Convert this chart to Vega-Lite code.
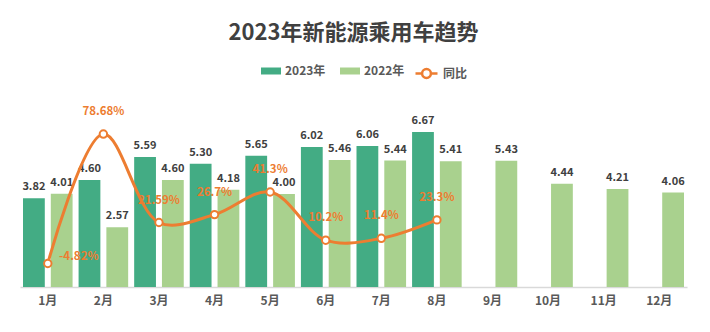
{
  "$schema": "https://vega.github.io/schema/vega-lite/v6.json",
  "width": 667,
  "height": 186,
  "autosize": {"type": "none"},
  "padding": {"left": 20, "top": 101, "right": 23, "bottom": 45},
  "background": "white",
  "title": {"text": "2023年新能源乘用车趋势", "fontSize": 22, "font": "Noto Sans CJK SC", "fontWeight": "bold", "color": "#404040", "anchor": "middle", "offset": 16, "frame": "group"},
  "config": {"view": {"stroke": null}, "font": "Noto Sans CJK SC",
    "locale": {"number": {"decimal": ".", "thousands": ",", "grouping": [3], "currency": ["", ""], "minus": "-"}}},
  "data": {
    "values": [
      {"month": "1月", "2023年": 3.82, "2022年": 4.01, "同比": -0.0482},
      {"month": "2月", "2023年": 4.60, "2022年": 2.57, "同比": 0.7868},
      {"month": "3月", "2023年": 5.59, "2022年": 4.60, "同比": 0.2159},
      {"month": "4月", "2023年": 5.30, "2022年": 4.18, "同比": 0.267},
      {"month": "5月", "2023年": 5.65, "2022年": 4.00, "同比": 0.413},
      {"month": "6月", "2023年": 6.02, "2022年": 5.46, "同比": 0.102},
      {"month": "7月", "2023年": 6.06, "2022年": 5.44, "同比": 0.114},
      {"month": "8月", "2023年": 6.67, "2022年": 5.41, "同比": 0.233},
      {"month": "9月", "2022年": 5.43},
      {"month": "10月", "2022年": 4.44},
      {"month": "11月", "2022年": 4.21},
      {"month": "12月", "2022年": 4.06}
    ]
  },
  "layer": [
    {
      "transform": [
        {"fold": ["2023年", "2022年"], "as": ["series", "value"]},
        {"filter": "isValid(datum.value)"}
      ],
      "encoding": {
        "x": {"field": "month", "type": "ordinal", "sort": ["1月","2月","3月","4月","5月","6月","7月","8月","9月","10月","11月","12月"], "scale": {"paddingInner": 0, "paddingOuter": 0}, "title": null,
          "axis": {"labelAngle": 0, "ticks": false, "domainColor": "#D9D9D9", "domainWidth": 1.5, "labelFontSize": 12, "labelFontWeight": "bold", "labelColor": "#595959", "labelPadding": 8}},
        "xOffset": {"field": "series", "type": "nominal", "sort": ["2023年", "2022年"], "scale": {"paddingInner": 0.216, "paddingOuter": 0.108}},
        "y": {"field": "value", "type": "quantitative", "scale": {"domain": [0, 8]}, "axis": null}
      },
      "layer": [
        {
          "mark": {"type": "bar"},
          "encoding": {
            "color": {"field": "series", "type": "nominal", "sort": ["2023年", "2022年"], "scale": {"domain": ["2023年", "2022年"], "range": ["#43AC84", "#A9D18E"]},
              "legend": {"title": null, "orient": "none", "direction": "horizontal", "legendX": 241, "legendY": -40, "symbolType": "M-1,-0.35H1V0.35H-1Z", "symbolSize": 400, "symbolStrokeWidth": 0, "labelFontSize": 12, "labelFontWeight": "bold", "labelColor": "#595959", "columnPadding": 14, "labelOffset": 4}}
          }
        },
        {
          "mark": {"type": "text", "dy": -11, "fontSize": 11, "fontWeight": "bold", "color": "#404040"},
          "encoding": {"text": {"field": "value", "type": "quantitative", "format": ".2f"}}
        }
      ]
    },
    {
      "transform": [{"filter": "isValid(datum['同比'])"}],
      "encoding": {
        "x": {"field": "month", "type": "ordinal", "sort": ["1月","2月","3月","4月","5月","6月","7月","8月","9月","10月","11月","12月"]},
        "y": {"field": "同比", "type": "quantitative", "scale": {"domain": [-0.2, 1.0]}, "axis": null}
      },
      "layer": [
        {
          "mark": {"type": "line", "interpolate": "catmull-rom", "strokeWidth": 3},
          "encoding": {
            "stroke": {"datum": "同比", "type": "nominal", "scale": {"range": ["#ED7D31"]},
              "legend": {"title": null, "orient": "none", "direction": "horizontal", "legendX": 394, "legendY": -40, "symbolType": "M-1,0H-0.4M0.4,0H1M0.4,0A0.4,0.4,0,1,1,-0.4,0A0.4,0.4,0,1,1,0.4,0Z", "symbolSize": 484, "symbolStrokeWidth": 2.5, "symbolFillColor": "white", "labelFontSize": 12, "labelFontWeight": "bold", "labelColor": "#595959", "labelOffset": 4}}
          }
        },
        {
          "mark": {"type": "point", "filled": true, "fill": "white", "stroke": "#ED7D31", "strokeWidth": 2, "size": 55, "opacity": 1}
        },
        {
          "transform": [{"filter": "datum['同比'] >= 0"}],
          "mark": {"type": "text", "dy": -22, "fontSize": 11.5, "fontWeight": "bold", "color": "#ED7D31"},
          "encoding": {"text": {"field": "同比", "type": "quantitative", "format": ".2~%"}}
        },
        {
          "transform": [{"filter": "datum['同比'] < 0"}],
          "mark": {"type": "text", "dx": 31, "dy": -6, "fontSize": 11.5, "fontWeight": "bold", "color": "#ED7D31"},
          "encoding": {"text": {"field": "同比", "type": "quantitative", "format": ".2~%"}}
        }
      ]
    }
  ],
  "resolve": {"scale": {"y": "independent", "color": "independent"}}
}
